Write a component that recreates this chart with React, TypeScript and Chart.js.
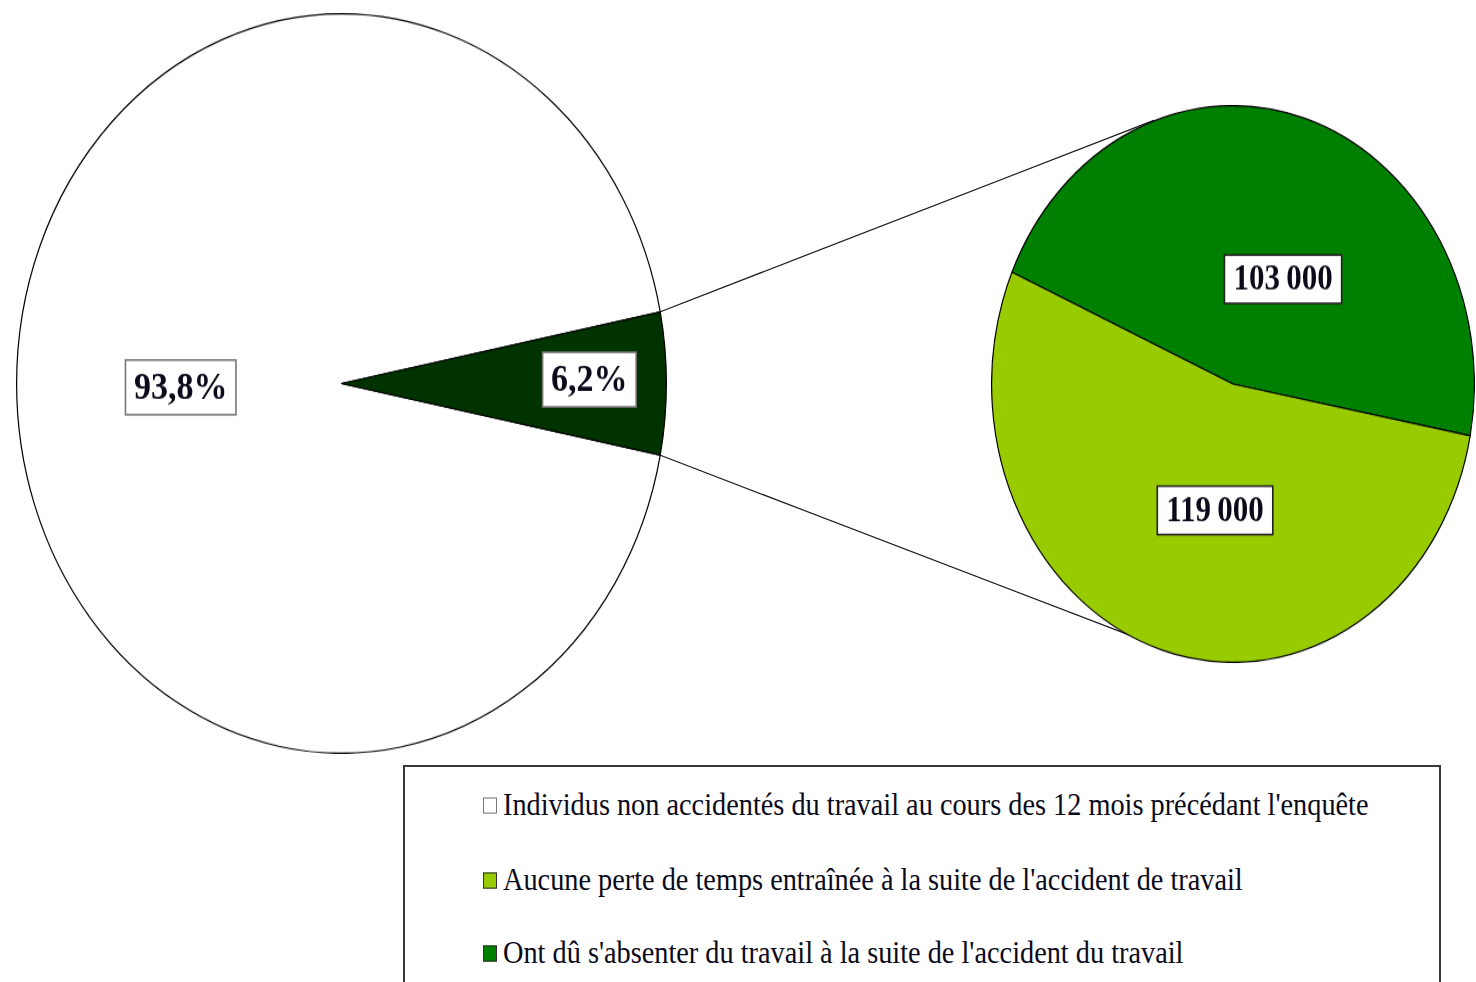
import React, { useEffect, useRef } from 'react';
import { Chart, registerables } from 'chart.js';
Chart.register(...registerables);

// ---- data ----
const mainCategories = ["Individus non accidentés du travail", "Accidentés du travail"];
const mainValues = [93.8, 6.2];
const mainValueLabels = ['93,8%', '6,2%'];

const subCategories = ["Ont dû s'absenter du travail à la suite de l'accident du travail", "Aucune perte de temps entraînée à la suite de l'accident de travail"];
const subValues = [103000, 119000];
const subValueLabels = ['103\u2009000', '119\u2009000'];

const legendLabels = [
  "Individus non accidentés du travail au cours des 12 mois précédant l'enquête",
  "Aucune perte de temps entraînée à la suite de l'accident de travail",
  "Ont dû s'absenter du travail à la suite de l'accident du travail",
];

// ---- styles ----
const mainColors = ['#FFFFFF', '#003300'];
const subColors = ['#008000', '#99CC00'];
const legendColors = ['#FFFFFF', '#99CC00', '#008000'];
const legendBorders = ['#777777', '#333333', '#333333'];

// layout (final page pixels)
const MAIN = { cx: 341, cy: 383.5, r: 325, sy: 1.138 };
const SUB = { cx: 1232.5, cy: 383.5, r: 241.5, sy: 1.153, rotation: 293.7 };
const CONNECT_ANGLES = [-109, 115.4];

function labelPlugin(texts: string[], radial: number[], offsets: number[], font: string, padX: number, boxH: number, border: string) {
  return {
    id: 'boxLabels',
    afterDatasetsDraw(chart: any) {
      const ctx = chart.ctx;
      const meta = chart.getDatasetMeta(0);
      meta.data.forEach((arc: any, i: number) => {
        const p = arc.getProps(['x', 'y', 'startAngle', 'endAngle', 'outerRadius'], true);
        const mid = (p.startAngle + p.endAngle) / 2 + (offsets[i] * Math.PI) / 180;
        const r = p.outerRadius * radial[i];
        const cx = p.x + Math.cos(mid) * r;
        const cy = p.y + Math.sin(mid) * r;
        ctx.save();
        ctx.font = font;
        const w = ctx.measureText(texts[i]).width + 2 * padX;
        ctx.fillStyle = '#FFFFFF';
        ctx.fillRect(cx - w / 2, cy - boxH / 2, w, boxH);
        ctx.strokeStyle = border;
        ctx.lineWidth = 1.6;
        ctx.strokeRect(cx - w / 2, cy - boxH / 2, w, boxH);
        ctx.fillStyle = '#0a0a1a';
        ctx.textAlign = 'center';
        ctx.textBaseline = 'middle';
        ctx.fillText(texts[i], cx, cy + 1);
        ctx.restore();
      });
    },
  };
}

export default function App() {
  const mainRef = useRef<HTMLCanvasElement>(null);
  const subRef = useRef<HTMLCanvasElement>(null);
  const l1 = useRef<SVGLineElement>(null);
  const l2 = useRef<SVGLineElement>(null);

  const mainSize = Math.round(MAIN.r * 2 + 1);
  const subSize = Math.round(SUB.r * 2 + 1);

  useEffect(() => {
    const total = mainValues.reduce((a, b) => a + b, 0);
    const mainRotation = 90 + (mainValues[1] / total) * 180;
    const main = new Chart(mainRef.current!, {
      type: 'pie',
      data: {
        labels: mainCategories,
        datasets: [{ data: mainValues, backgroundColor: mainColors, borderColor: '#000000', borderWidth: 1.2 }],
      },
      options: {
        responsive: false,
        animation: false,
        rotation: mainRotation,
        layout: { padding: 0 },
        plugins: { legend: { display: false }, tooltip: { enabled: false } },
      },
      plugins: [labelPlugin(mainValueLabels, [0.495, 0.763], [-1.2, -0.8], 'bold 34px "Liberation Serif"', 8.5, 48, '#777777')],
    });
    const sub = new Chart(subRef.current!, {
      type: 'pie',
      data: {
        labels: subCategories,
        datasets: [{ data: subValues, backgroundColor: subColors, borderColor: '#000000', borderWidth: 1.2 }],
      },
      options: {
        responsive: false,
        animation: false,
        rotation: SUB.rotation,
        layout: { padding: 0 },
        plugins: { legend: { display: false }, tooltip: { enabled: false } },
      },
      plugins: [labelPlugin(subValueLabels, [0.43, 0.46], [11.6, -7.9], 'bold 31px "Liberation Serif"', 9, 42, '#222222')],
    });

    // connector lines
    const a = main.getDatasetMeta(0).data[1] as any;
    const ap = a.getProps(['x', 'y', 'startAngle', 'endAngle', 'outerRadius'], true);
    const b = sub.getDatasetMeta(0).data[0] as any;
    const bp = b.getProps(['x', 'y', 'outerRadius'], true);
    const mainLeft = MAIN.cx - mainSize / 2;
    const subLeft = SUB.cx - subSize / 2;
    const toMain = (ang: number) => [
      mainLeft + ap.x + Math.cos(ang) * ap.outerRadius,
      MAIN.cy + (ap.y - mainSize / 2 + Math.sin(ang) * ap.outerRadius) * MAIN.sy,
    ];
    const toSub = (deg: number) => {
      const ang = (deg * Math.PI) / 180;
      return [
        subLeft + bp.x + Math.cos(ang) * bp.outerRadius,
        SUB.cy + (bp.y - subSize / 2 + Math.sin(ang) * bp.outerRadius) * SUB.sy,
      ];
    };
    const p1 = toMain(ap.startAngle);
    const p2 = toMain(ap.endAngle);
    const q1 = toSub(CONNECT_ANGLES[0]);
    const q2 = toSub(CONNECT_ANGLES[1]);
    const set = (el: SVGLineElement | null, p: number[], q: number[]) => {
      if (!el) return;
      el.setAttribute('x1', String(p[0]));
      el.setAttribute('y1', String(p[1]));
      el.setAttribute('x2', String(q[0]));
      el.setAttribute('y2', String(q[1]));
    };
    set(l1.current, p1, q1);
    set(l2.current, p2, q2);

    return () => {
      main.destroy();
      sub.destroy();
    };
  }, []);

  const rowCenters = [805, 880, 953];

  return (
    <div style={{ position: 'absolute', left: 0, top: 0, width: 1476, height: 982, overflow: 'hidden', background: '#FFFFFF' }}>
      <svg width={1476} height={982} style={{ position: 'absolute', left: 0, top: 0 }}>
        <line ref={l1} stroke="#1a1a1a" strokeWidth={1.2} />
        <line ref={l2} stroke="#1a1a1a" strokeWidth={1.2} />
      </svg>
      <canvas
        ref={mainRef}
        width={mainSize}
        height={mainSize}
        style={{
          position: 'absolute',
          left: MAIN.cx - mainSize / 2,
          top: MAIN.cy - mainSize / 2,
          width: mainSize,
          height: mainSize,
          transform: `scaleY(${MAIN.sy})`,
          transformOrigin: 'center center',
        }}
      />
      <canvas
        ref={subRef}
        width={subSize}
        height={subSize}
        style={{
          position: 'absolute',
          left: SUB.cx - subSize / 2,
          top: SUB.cy - subSize / 2,
          width: subSize,
          height: subSize,
          transform: `scaleY(${SUB.sy})`,
          transformOrigin: 'center center',
        }}
      />
      <div
        style={{
          position: 'absolute',
          left: 403,
          top: 765,
          width: 1038,
          height: 260,
          border: '2px solid #3a3a3a',
          boxSizing: 'border-box',
          background: '#FFFFFF',
        }}
      />
      {legendLabels.map((t, i) => (
        <div
          key={i}
          style={{
            position: 'absolute',
            left: 483,
            top: rowCenters[i] - 15,
            height: 30,
            display: 'flex',
            alignItems: 'center',
            whiteSpace: 'nowrap',
            transform: 'scaleY(1.08)',
            transformOrigin: 'left center',
            fontFamily: '"Liberation Serif", serif',
            fontSize: 28.3,
            color: '#0a0a1a',
          }}
        >
          <span
            style={{
              display: 'inline-block',
              width: 12,
              height: 13,
              background: legendColors[i],
              border: `1.5px solid ${legendBorders[i]}`,
              marginRight: 6,
              boxSizing: 'content-box',
            }}
          />
          <span>{t}</span>
        </div>
      ))}
    </div>
  );
}
